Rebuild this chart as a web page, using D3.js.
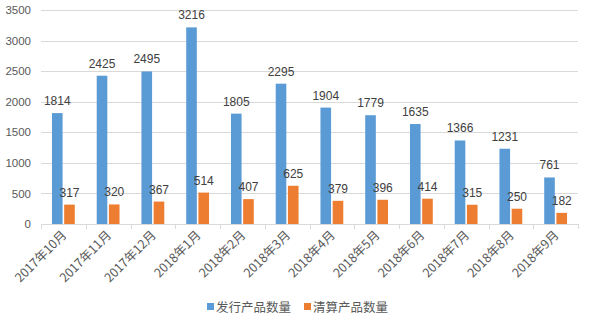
<!DOCTYPE html>
<html>
<head>
<meta charset="utf-8">
<script src="https://cdn.jsdelivr.net/npm/d3@7"></script>
<style>
  body { margin: 0; background: #fff; }
  svg { display: block; font-family: "Microsoft YaHei", "Noto Sans CJK SC", "DejaVu Sans", sans-serif; }
</style>
</head>
<body>
<svg id="chart" width="592" height="325"></svg>
<script>
// Monthly product counts
const months = ["2017年10月", "2017年11月", "2017年12月", "2018年1月", "2018年2月", "2018年3月",
                "2018年4月", "2018年5月", "2018年6月", "2018年7月", "2018年8月", "2018年9月"];
const issued = [1814, 2425, 2495, 3216, 1805, 2295, 1904, 1779, 1635, 1366, 1231, 761];
const settled = [317, 320, 367, 514, 407, 625, 379, 396, 414, 315, 250, 182];
const seriesNames = ["发行产品数量", "清算产品数量"];
const yTicks = [0, 500, 1000, 1500, 2000, 2500, 3000, 3500];

const colors = ["#5B9BD5", "#ED7D31"];
const svg = d3.select("#chart");
const margin = { left: 41, right: 14, top: 10, bottom: 101 };
const W = 592, H = 325;
const plotW = W - margin.left - margin.right;
const plotH = H - margin.top - margin.bottom;

const g = svg.append("g").attr("transform", `translate(${margin.left},${margin.top})`);

const x = d3.scaleBand().domain(months).range([0, plotW]).paddingInner(0).paddingOuter(0);
const x1 = d3.scaleBand().domain([0, 1]).range([x.bandwidth() * 0.245, x.bandwidth() * 0.755]).paddingInner(0.13);
const y = d3.scaleLinear().domain([0, 3500]).range([plotH, 0]);

// gridlines
g.append("g").selectAll("line").data(yTicks.slice(1)).join("line")
  .attr("x1", 0).attr("x2", plotW)
  .attr("y1", d => Math.round(y(d)) + 0.5).attr("y2", d => Math.round(y(d)) + 0.5)
  .attr("stroke", "#D9D9D9").attr("stroke-width", 1);

// y axis labels
const yAxis = g.append("g").call(d3.axisLeft(y).tickValues(yTicks).tickFormat(d3.format("d")).tickSize(0).tickPadding(10));
yAxis.select(".domain").remove();
yAxis.selectAll("text").attr("fill", "#595959").style("font-size", "11.5px")
  .style("font-family", "'Liberation Sans', Arial, sans-serif");

// bars
const data = months.map((m, i) => ({ m, vals: [issued[i], settled[i]] }));
const groups = g.selectAll(".grp").data(data).join("g").attr("class", "grp")
  .attr("transform", d => `translate(${x(d.m)},0)`);

groups.selectAll("rect").data(d => d.vals.map((v, k) => ({ v, k }))).join("rect")
  .attr("x", d => x1(d.k)).attr("width", x1.bandwidth())
  .attr("y", d => y(d.v)).attr("height", d => plotH - y(d.v))
  .attr("fill", d => colors[d.k]);

groups.selectAll("text.val").data(d => d.vals.map((v, k) => ({ v, k }))).join("text")
  .attr("class", "val")
  .attr("x", d => x1(d.k) + x1.bandwidth() / 2)
  .attr("y", d => y(d.v) - 8)
  .attr("text-anchor", "middle")
  .attr("fill", "#404040")
  .style("font-size", "12px")
  .style("font-family", "'Liberation Sans', Arial, sans-serif")
  .text(d => d.v);

// x axis line + ticks
const xAxisG = g.append("g").attr("transform", `translate(0,${plotH})`);
xAxisG.append("line").attr("x1", 0).attr("x2", plotW).attr("y1", 0.5).attr("y2", 0.5)
  .attr("stroke", "#D9D9D9");
xAxisG.selectAll("line.tick").data(months.concat(["end"])).join("line").attr("class", "tick")
  .attr("x1", (d, i) => Math.round(i * x.step()) + 0.5).attr("x2", (d, i) => Math.round(i * x.step()) + 0.5)
  .attr("y1", 0).attr("y2", 5).attr("stroke", "#D9D9D9");

xAxisG.selectAll("text").data(months).join("text")
  .attr("transform", d => `translate(${x(d) + x.bandwidth() / 2 + 4},${12}) rotate(-45)`)
  .attr("text-anchor", "end")
  .attr("fill", "#595959")
  .style("font-size", "12.5px")
  .text(d => d);

// legend
const legend = svg.append("g").attr("transform", "translate(207,307)");
const items = [{ name: seriesNames[0], c: colors[0], x: 0 }, { name: seriesNames[1], c: colors[1], x: 97 }];
items.forEach(it => {
  legend.append("rect").attr("x", it.x).attr("y", -4).attr("width", 7).attr("height", 7).attr("fill", it.c);
  legend.append("text").attr("x", it.x + 9).attr("y", 4.5).attr("fill", "#595959")
    .style("font-size", "12.5px").text(it.name);
});
</script>
</body>
</html>
